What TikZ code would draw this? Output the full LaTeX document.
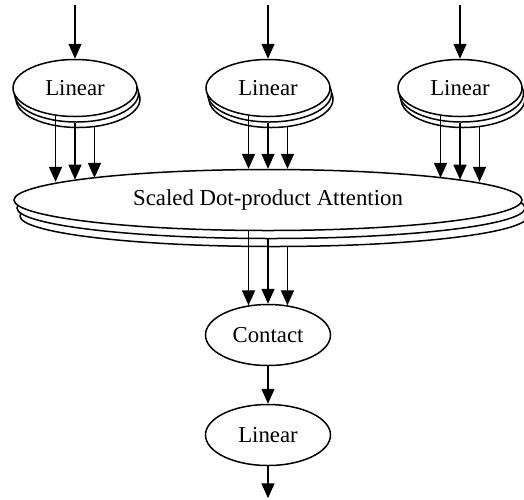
\documentclass[tikz,border=0pt]{standalone}
\usepackage{fontspec}
\setmainfont{Liberation Serif}
\usetikzlibrary{shapes.geometric, arrows.meta, shadows, positioning}

\tikzstyle{stacked} = [
    ellipse,
    minimum width=62pt,
    minimum height=28.5pt,
    draw=black,
    fill=white,
    copy shadow={shadow xshift=1.5pt, shadow yshift=-5.5pt, draw=black, fill=white},
    copy shadow={shadow xshift=0.75pt, shadow yshift=-2.75pt, draw=black, fill=white}
]
\tikzstyle{attention} = [
    ellipse,
    minimum width=254pt,
    minimum height=30.5pt,
    draw=black,
    fill=white,
    copy shadow={shadow xshift=3pt, shadow yshift=-8pt, draw=black, fill=white},
    copy shadow={shadow xshift=1.5pt, shadow yshift=-4pt, draw=black, fill=white}
]
\tikzstyle{single} = [
    ellipse,
    minimum width=62.5pt,
    minimum height=30.5pt,
    draw=black
]
\tikzstyle{arrow} = [line width=0.75pt, -{Triangle[length=7.5pt, width=6.5pt]}]

\begin{document}
\begin{tikzpicture}[x=0.5pt, y=-0.5pt, line width=0.75pt,
    font=\fontsize{11.4}{13.7}\selectfont]

\useasboundingbox (0,0) rectangle (524,499);

\node (lin2) [stacked] at (268,88) {Linear};

\node (lin1) [stacked, node distance=96.5pt, left of=lin2] {Linear};

\node (lin3) [stacked, node distance=96pt, right of=lin2] {Linear};

\node (att) [attention, node distance=56pt, below of=lin2]
{Scaled Dot-product Attention};

\node (contact) [single, node distance=67.5pt, below of=att] {Contact};

\node (linout) [single, node distance=50pt, below of=contact] {Linear};

\coordinate (in1) at ([yshift=26.75pt]lin1.north);
\coordinate (in2) at ([yshift=26.75pt]lin2.north);
\coordinate (in3) at ([yshift=26.75pt]lin3.north);
\coordinate (out) at ([yshift=-16pt]linout.south);

\draw [arrow] (in1) -- (lin1);
\draw [arrow] (in2) -- (lin2);
\draw [arrow] (in3) -- (lin3);

% one arrow out of each layer of the stacks
\draw [arrow] (lin1.-125) -- (lin1.-125 |- att.175);
\draw [arrow] ([yshift=-2.75pt]lin1.south) -- (lin1.south |- att.174);
\draw [arrow] ([yshift=-5.5pt]lin1.-55) -- (lin1.-55 |- att.173);

\draw [arrow] (lin2.-125) -- (lin2.-125 |- att.122);
\draw [arrow] ([yshift=-2.75pt]lin2.south) -- (att);
\draw [arrow] ([yshift=-5.5pt]lin2.-55) -- (lin2.-55 |- att.58);

\draw [arrow] (lin3.-125) -- (lin3.-125 |- att.7);
\draw [arrow] ([yshift=-2.75pt]lin3.south) -- (lin3.south |- att.6);
\draw [arrow] ([yshift=-5.5pt]lin3.-55) -- (lin3.-55 |- att.5);

\draw [arrow] (att.-122) -- (att.-122 |- contact.124);
\draw [arrow] ([yshift=-4pt]att.south) -- (contact);
\draw [arrow] ([yshift=-8pt]att.-58) -- (att.-58 |- contact.56);

\draw [arrow] (contact) -- (linout);
\draw [arrow] (linout) -- (out);

\end{tikzpicture}
\end{document}
